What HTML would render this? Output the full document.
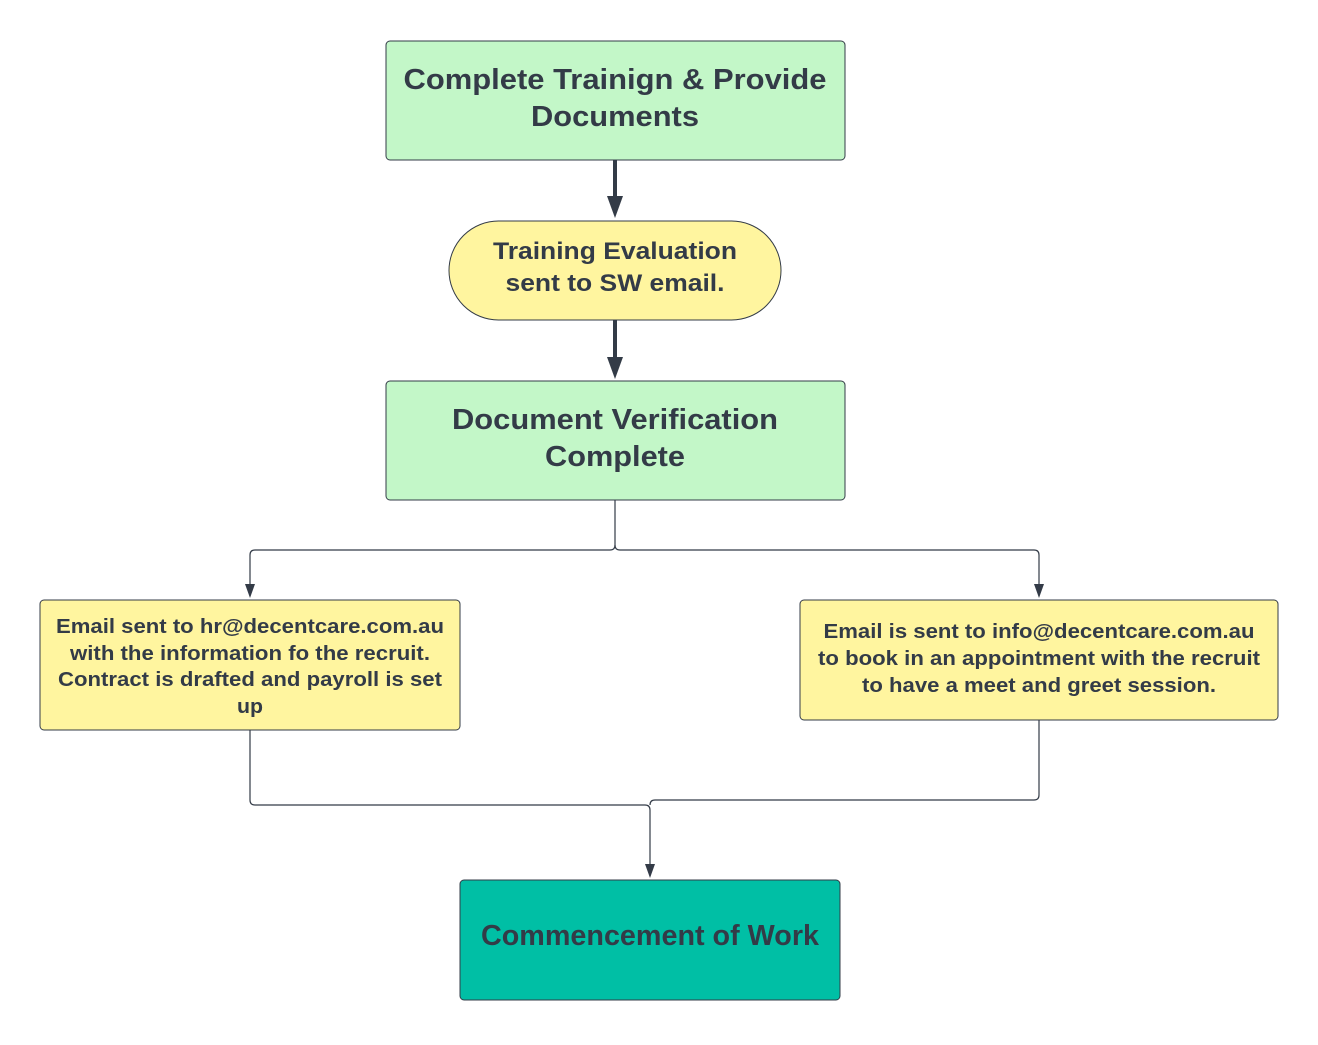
<!DOCTYPE html>
<html><head><style>
html,body{margin:0;padding:0;background:#fff;}
svg text{font-family:"Liberation Sans",sans-serif;font-weight:bold;fill:#333b47;text-anchor:middle;}
</style></head><body>
<svg width="1318" height="1040" viewBox="0 0 1318 1040" xmlns="http://www.w3.org/2000/svg">
<g fill="none" stroke="#333b47">
<line x1="615" y1="160" x2="615" y2="196" stroke-width="4"/>
<path d="M607,196 L623,196 L615,218 z" fill="#333b47" stroke="none"/>
<line x1="615" y1="320" x2="615" y2="357" stroke-width="4"/>
<path d="M607,357 L623,357 L615,379 z" fill="#333b47" stroke="none"/>
<path d="M615,500 V545 Q615,550 610,550 H255 Q250,550 250,555 V588" stroke-width="1.2"/>
<path d="M615,545 Q615,550 620,550 H1034 Q1039,550 1039,555 V588" stroke-width="1.2"/>
<path d="M245,584 L255,584 L250,598 z" fill="#333b47" stroke="none"/>
<path d="M1034,584 L1044,584 L1039,598 z" fill="#333b47" stroke="none"/>
<path d="M250,730 V800 Q250,805 255,805 H645 Q650,805 650,810 V866" stroke-width="1.2"/>
<path d="M1039,720 V795 Q1039,800 1034,800 H655 Q650,800 650,805" stroke-width="1.2"/>
<path d="M645,864 L655,864 L650,878 z" fill="#333b47" stroke="none"/>
</g>
<rect x="386" y="41" width="459" height="119" rx="4" fill="#c3f7c8" stroke="#333b47" stroke-width="1"/>
<text x="615" y="89" font-size="29" textLength="423" lengthAdjust="spacingAndGlyphs">Complete Trainign &amp; Provide</text>
<text x="615" y="126" font-size="29" textLength="168" lengthAdjust="spacingAndGlyphs">Documents</text>
<rect x="449" y="221" width="332" height="99" rx="49.5" fill="#fff59f" stroke="#333b47" stroke-width="1"/>
<text x="615" y="259" font-size="24" textLength="244" lengthAdjust="spacingAndGlyphs">Training Evaluation</text>
<text x="615" y="291" font-size="24" textLength="219" lengthAdjust="spacingAndGlyphs">sent to SW email.</text>
<rect x="386" y="381" width="459" height="119" rx="4" fill="#c3f7c8" stroke="#333b47" stroke-width="1"/>
<text x="615" y="429" font-size="29" textLength="326" lengthAdjust="spacingAndGlyphs">Document Verification</text>
<text x="615" y="466" font-size="29" textLength="140" lengthAdjust="spacingAndGlyphs">Complete</text>
<rect x="40" y="600" width="420" height="130" rx="4" fill="#fff59f" stroke="#333b47" stroke-width="1"/>
<text x="250" y="633" font-size="20" textLength="388" lengthAdjust="spacingAndGlyphs">Email sent to hr@decentcare.com.au</text>
<text x="250" y="660" font-size="20" textLength="360" lengthAdjust="spacingAndGlyphs">with the information fo the recruit.</text>
<text x="250" y="686" font-size="20" textLength="384" lengthAdjust="spacingAndGlyphs">Contract is drafted and payroll is set</text>
<text x="250" y="713" font-size="20" textLength="26" lengthAdjust="spacingAndGlyphs">up</text>
<rect x="800" y="600" width="478" height="120" rx="4" fill="#fff59f" stroke="#333b47" stroke-width="1"/>
<text x="1039" y="638" font-size="20" textLength="431" lengthAdjust="spacingAndGlyphs">Email is sent to info@decentcare.com.au</text>
<text x="1039" y="665" font-size="20" textLength="442" lengthAdjust="spacingAndGlyphs">to book in an appointment with the recruit</text>
<text x="1039" y="692" font-size="20" textLength="354" lengthAdjust="spacingAndGlyphs">to have a meet and greet session.</text>
<rect x="460" y="880" width="380" height="120" rx="4" fill="#00bfa5" stroke="#333b47" stroke-width="1"/>
<text x="650" y="945" font-size="29" textLength="338" lengthAdjust="spacingAndGlyphs">Commencement of Work</text>
</svg>
</body></html>
